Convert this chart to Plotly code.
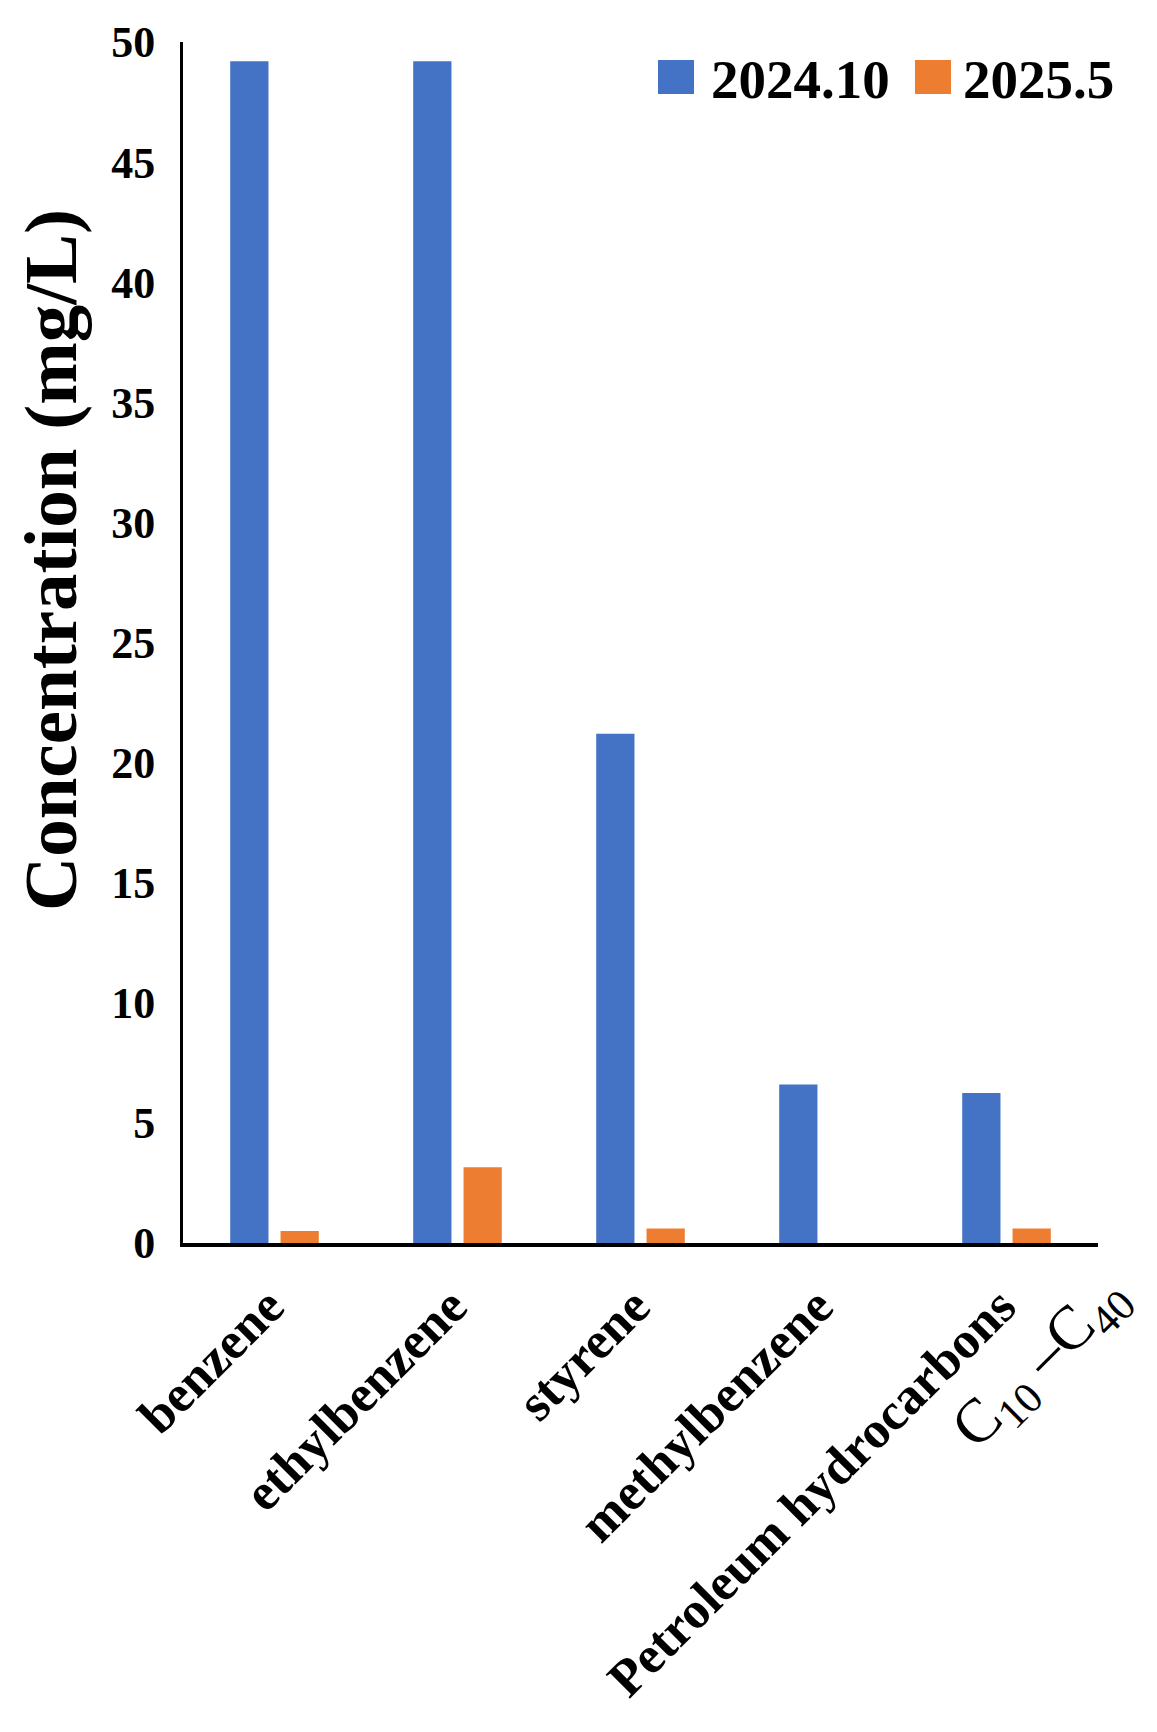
import plotly.graph_objects as go

# data
categories = ["benzene", "ethylbenzene", "styrene", "methylbenzene", "Petroleum hydrocarbons"]
series_names = ["2024.10", "2025.5"]
conc_2024_10 = [49.2, 49.2, 21.2, 6.6, 6.25]
conc_2025_5 = [0.5, 3.15, 0.6, 0, 0.6]
y_ticks = [0, 5, 10, 15, 20, 25, 30, 35, 40, 45, 50]

colors = ["#4472C4", "#ED7D31"]
font_family = "Liberation Serif"

W, H = 1157, 1732
L, R, T, B = 183, 59, 42, 489


def px_x(px):
    return (px - L) / (W - L - R)


def px_y(py):
    return (H - B - py) / (H - T - B)


fig = go.Figure()
for name, vals, col in zip(series_names, [conc_2024_10, conc_2025_5], colors):
    fig.add_trace(go.Bar(
        x=categories, y=vals, name=name,
        marker=dict(color=col, line=dict(width=0)),
        showlegend=False,
    ))

# legend drawn by hand so the squares can be as big as in the original
legend_sq = [(658, 694), (915, 951)]
legend_txt = [709, 961]
for (x0, x1), tx, name, col in zip(legend_sq, legend_txt, series_names, colors):
    fig.add_shape(type="rect", xref="paper", yref="paper",
                  x0=px_x(x0), x1=px_x(x1), y0=px_y(94), y1=px_y(60),
                  fillcolor=col, line=dict(width=0))
    fig.add_annotation(text=name, xref="paper", yref="paper",
                       x=px_x(tx), y=px_y(79), xanchor="left", yanchor="middle",
                       showarrow=False,
                       font=dict(family=font_family, size=55, color="black", weight="bold"))

# y axis title
fig.add_annotation(text="<b>Concentration (mg/L)</b>", xref="paper", yref="paper",
                   x=px_x(50), y=px_y(560), textangle=-90, showarrow=False,
                   xanchor="center", yanchor="middle",
                   font=dict(family=font_family, size=75, color="black"))

# second line of the last category label
fig.add_annotation(text="C<sub>10</sub> \u2013C<sub>40</sub>",
                   x=categories[-1], xref="x", y=0, yref="paper",
                   xshift=34, yshift=-120, textangle=-45, showarrow=False,
                   xanchor="center", yanchor="middle",
                   font=dict(family=font_family, size=62, color="black"))

fig.update_layout(
    width=W, height=H,
    margin=dict(l=L, r=R, t=T, b=B, autoexpand=False),
    paper_bgcolor="white", plot_bgcolor="white",
    barmode="group", bargap=0.45, bargroupgap=0.24,
    font=dict(family=font_family, color="black"),
)
fig.update_xaxes(
    range=[-0.5, len(categories) - 0.5], autorange=False,
    showline=True, linecolor="black", linewidth=4,
    showgrid=False, ticks="", tickangle=-45, automargin=False,
    ticklabelstandoff=8, ticklabelshift=-6,
    tickfont=dict(family=font_family, size=52, color="black", weight="bold"),
)
fig.update_yaxes(
    range=[0, 50], autorange=False, tickvals=y_ticks,
    showline=True, linecolor="black", linewidth=3,
    showgrid=False, zeroline=False, ticks="", automargin=False,
    ticklabelstandoff=16,
    tickfont=dict(family=font_family, size=44, color="black", weight="bold"),
)

fig.write_html("out.html", config={"displayModeBar": False},
               post_script="document.body.style.margin='0';")
